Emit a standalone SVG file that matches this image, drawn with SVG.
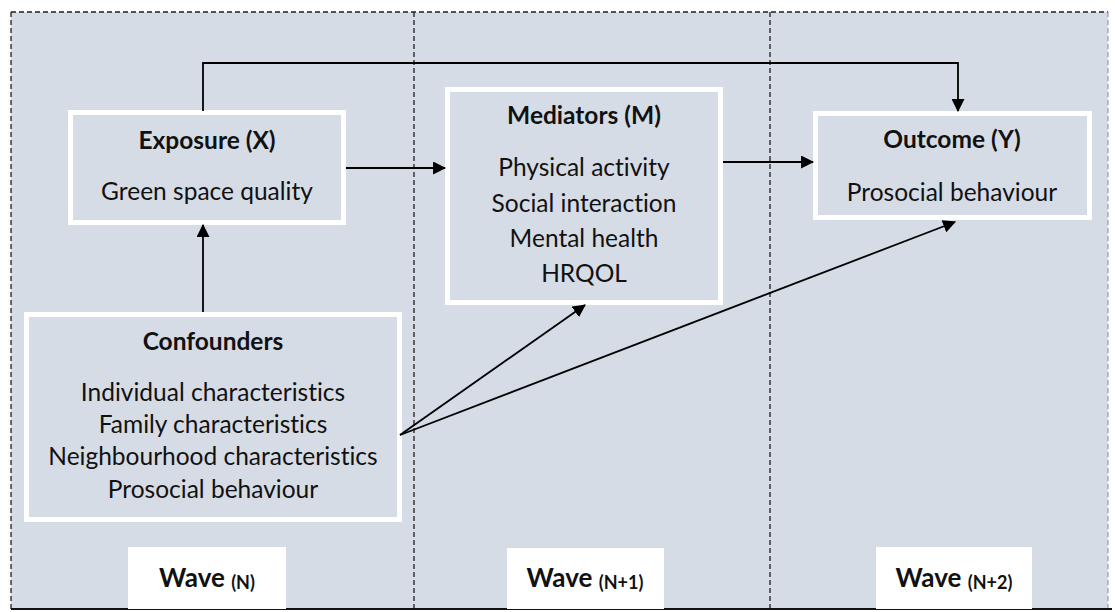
<svg xmlns="http://www.w3.org/2000/svg" width="1115" height="612" viewBox="0 0 1115 612">
  <style>
    .panel { fill: #D6DCE5; }
    .frame { fill: none; stroke: #1e1e1e; stroke-width: 1.3; stroke-dasharray: 5 3; }
    .node rect.box { fill: #D6DCE5; stroke: #FFFFFF; stroke-width: 5; }
    .wave rect { fill: #FFFFFF; }
    text { font-family: Lato, "Liberation Sans", sans-serif; fill: #111; text-anchor: middle; font-variant-ligatures: none; }
    .title { font-size: 24.5px; font-weight: bold; }
    .item { font-size: 24.5px; }
    .wave text { font-size: 26px; font-weight: bold; }
    .wave tspan.sub { font-size: 18px; }
    .edge { fill: none; stroke: #000; stroke-width: 1.8; }
  </style>
  <defs>
    <marker id="arrow" viewBox="0 0 12 12" refX="11" refY="6" markerWidth="13" markerHeight="13" markerUnits="userSpaceOnUse" orient="auto">
      <path d="M0,0 L12,6 L0,12 z" fill="#000"/>
    </marker>
  </defs>

  <!-- background panel with wave dividers -->
  <g id="panel">
    <rect class="panel" x="11" y="12" width="1097" height="597"/>
    <line class="frame" x1="11" y1="12" x2="1108" y2="12"/>
    <line class="frame" x1="11" y1="12" x2="11" y2="609"/>
    <line class="frame" x1="1108" y1="12" x2="1108" y2="609" style="stroke:#9aa3ae"/>
    <line class="frame" x1="414" y1="12" x2="414" y2="609"/>
    <line class="frame" x1="770" y1="12" x2="770" y2="609"/>
    <line x1="11" y1="609" x2="1112" y2="609" stroke="#111" stroke-width="2"/>
  </g>

  <!-- nodes -->
  <g id="exposure" class="node">
    <rect class="box" x="70.5" y="112.5" width="273" height="110"/>
    <text class="title" x="207" y="149">Exposure (X)</text>
    <text class="item" x="207" y="200">Green space quality</text>
  </g>

  <g id="mediators" class="node">
    <rect class="box" x="447.5" y="89.5" width="273" height="213"/>
    <text class="title" x="584" y="124">Mediators (M)</text>
    <text class="item" x="584" y="176">Physical activity</text>
    <text class="item" x="584" y="212">Social interaction</text>
    <text class="item" x="584" y="247">Mental health</text>
    <text class="item" x="584" y="282">HRQOL</text>
  </g>

  <g id="outcome" class="node">
    <rect class="box" x="815.5" y="113.5" width="274" height="104"/>
    <text class="title" x="952" y="148">Outcome (Y)</text>
    <text class="item" x="952" y="201">Prosocial behaviour</text>
  </g>

  <g id="confounders" class="node">
    <rect class="box" x="26.5" y="314.5" width="373" height="205"/>
    <text class="title" x="213" y="350">Confounders</text>
    <text class="item" x="213" y="401">Individual characteristics</text>
    <text class="item" x="213" y="433">Family characteristics</text>
    <text class="item" x="213" y="465">Neighbourhood characteristics</text>
    <text class="item" x="213" y="498">Prosocial behaviour</text>
  </g>

  <!-- wave labels -->
  <g id="wave-n" class="wave">
    <rect x="128" y="547" width="158" height="62"/>
    <text x="207" y="587">Wave <tspan class="sub" dy="2">(N)</tspan></text>
  </g>
  <g id="wave-n1" class="wave">
    <rect x="507" y="548" width="157" height="61"/>
    <text x="585" y="587">Wave <tspan class="sub" dy="2">(N+1)</tspan></text>
  </g>
  <g id="wave-n2" class="wave">
    <rect x="876" y="547" width="156" height="62"/>
    <text x="954" y="587">Wave <tspan class="sub" dy="2">(N+2)</tspan></text>
  </g>

  <!-- connectors -->
  <g id="connectors">
    <polyline class="edge" points="203,111 203,63 958,63 958,111" marker-end="url(#arrow)"/>
    <line class="edge" x1="346" y1="168" x2="445" y2="168" marker-end="url(#arrow)"/>
    <line class="edge" x1="723" y1="162" x2="813" y2="162" marker-end="url(#arrow)"/>
    <line class="edge" x1="203" y1="312" x2="203" y2="225" marker-end="url(#arrow)"/>
    <line class="edge" x1="400" y1="435" x2="585" y2="305" marker-end="url(#arrow)"/>
    <line class="edge" x1="400" y1="435" x2="955" y2="222" marker-end="url(#arrow)"/>
  </g>
</svg>
